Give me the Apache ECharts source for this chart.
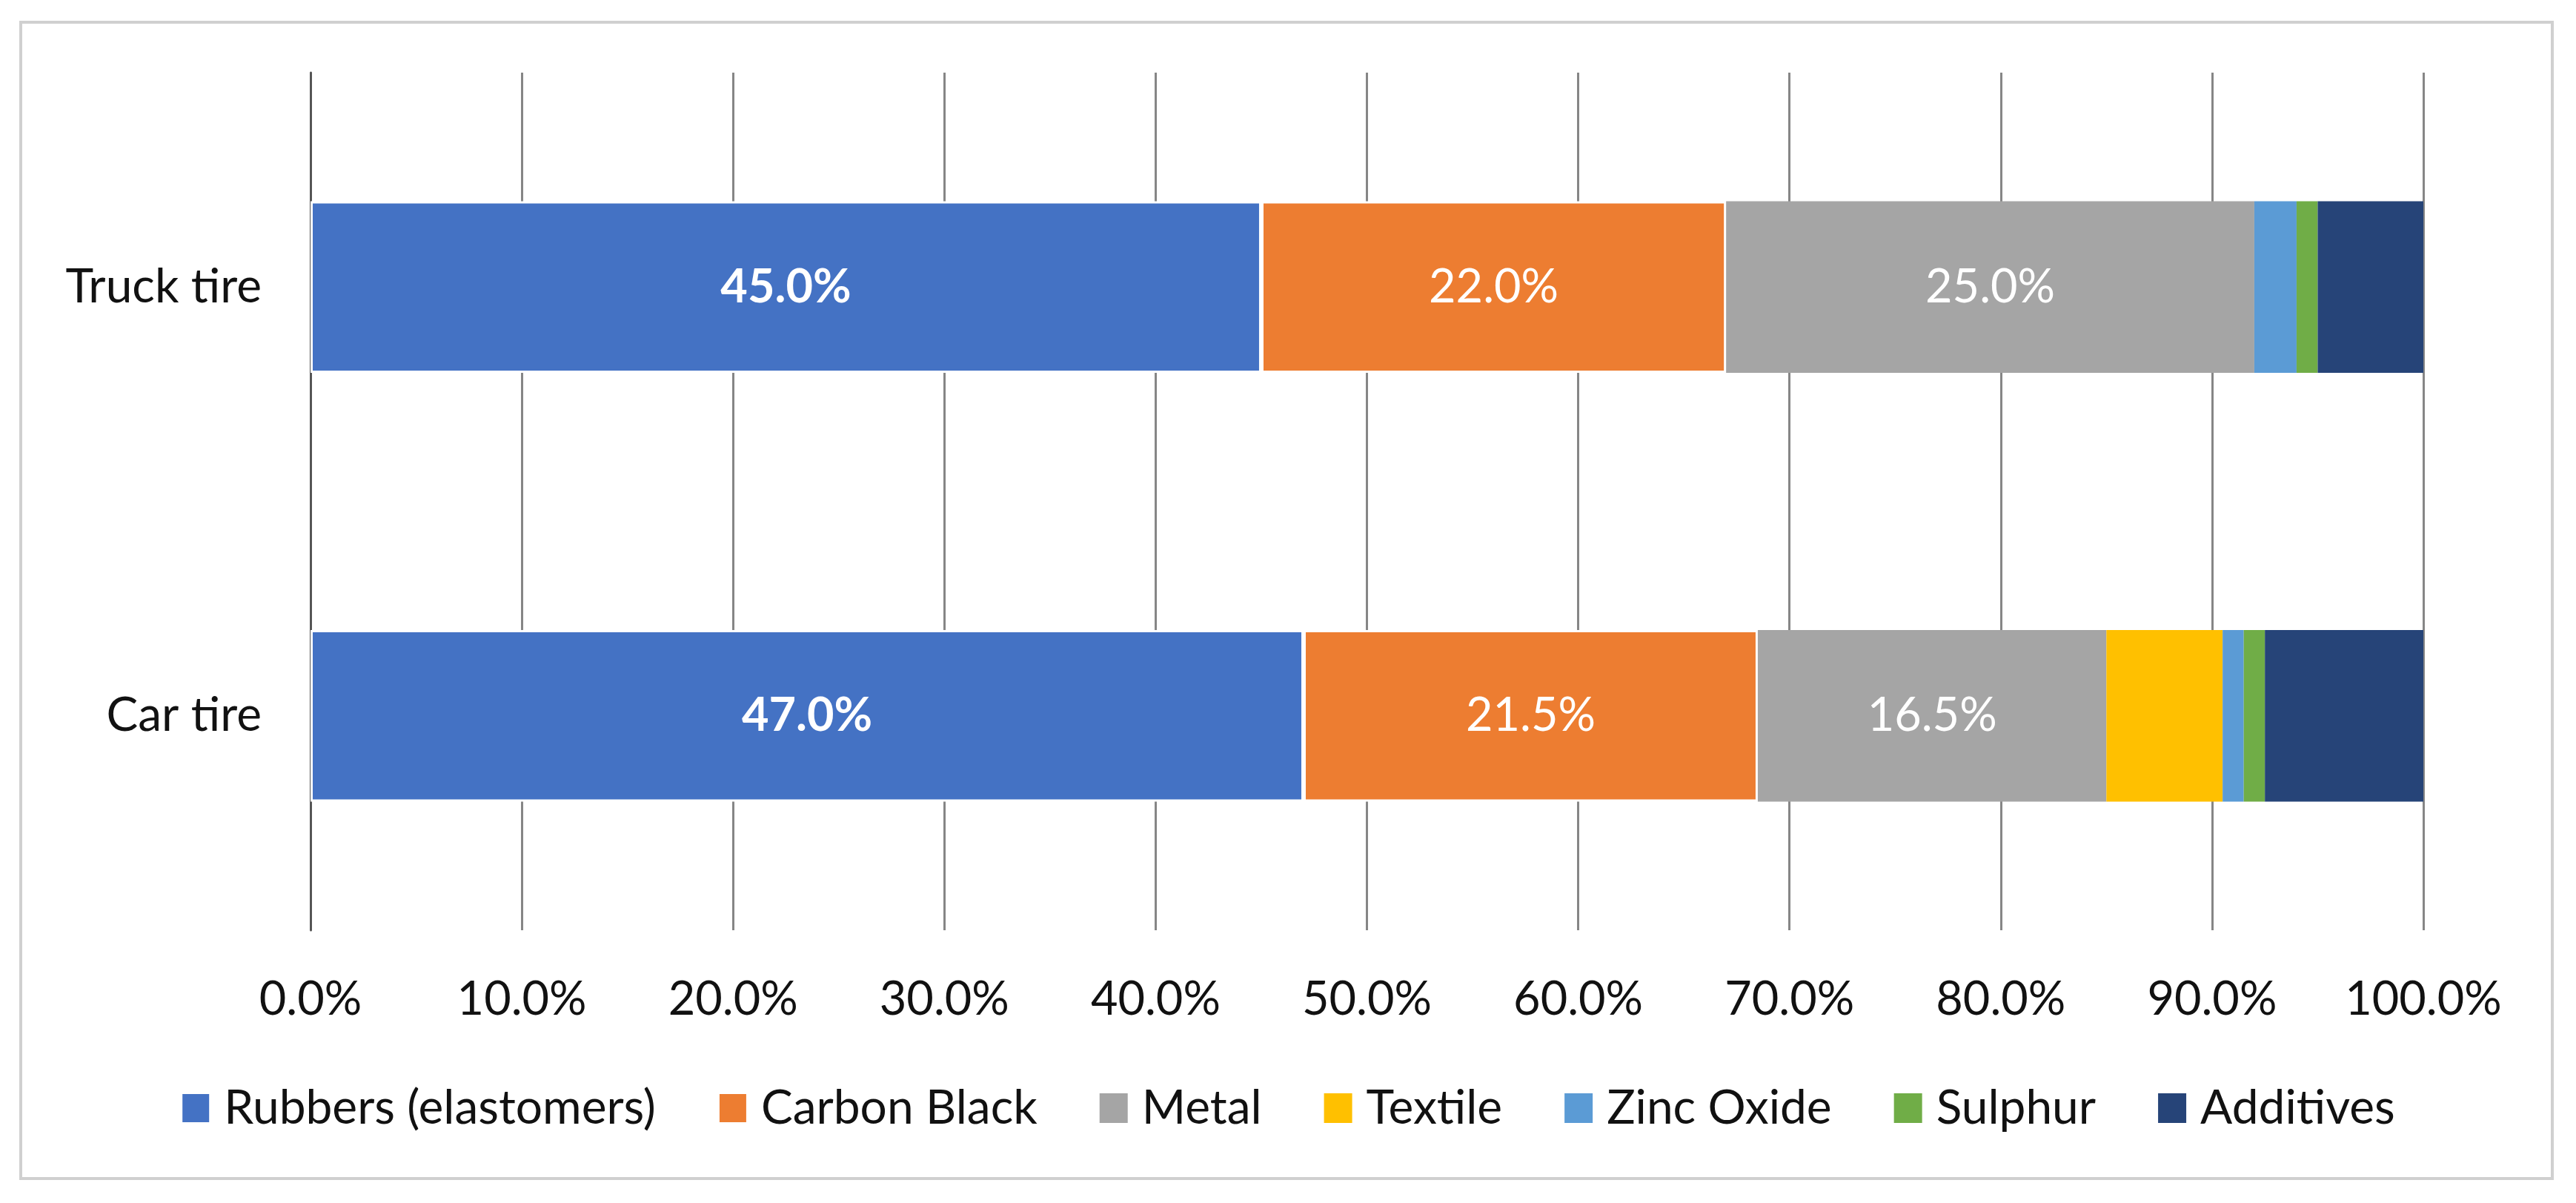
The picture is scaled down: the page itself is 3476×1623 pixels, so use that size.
<!DOCTYPE html>
<html>
<head>
<meta charset="utf-8">
<script src="https://cdn.jsdelivr.net/npm/echarts@6/dist/echarts.min.js"></script>
<style>
html,body{margin:0;padding:0;background:#fff;}
#c{width:3476px;height:1623px;}
</style>
</head>
<body>
<div id="c"></div>
<script>
const categories = ['Car tire', 'Truck tire'];
const seriesNames = ['Rubbers (elastomers)', 'Carbon Black', 'Metal', 'Textile', 'Zinc Oxide', 'Sulphur', 'Additives'];
const rubbers   = [47.0, 45.0];
const carbon    = [21.5, 22.0];
const metal     = [16.5, 25.0];
const textile   = [5.5, 0];
const zincOxide = [1.0, 2.0];
const sulphur   = [1.0, 1.0];
const additives = [7.5, 5.0];
const xTicks = [0, 10, 20, 30, 40, 50, 60, 70, 80, 90, 100];

const colors = ['#4472C4', '#ED7D31', '#A5A5A5', '#FFC000', '#5B9BD5', '#70AD47', '#264478'];
const values = [rubbers, carbon, metal, textile, zincOxide, sulphur, additives];
const labelShown = [true, true, true, false, false, false, false];
const labelBold = [true, false, false, false, false, false, false];
const FONT = 'Lato, "Open Sans", sans-serif';

const chart = echarts.init(document.getElementById('c'), null, {renderer: 'canvas'});

const series = seriesNames.map((name, i) => ({
  name: name,
  type: 'bar',
  stack: 'total',
  barWidth: '40%',
  data: values[i],
  itemStyle: {
    color: colors[i],
    borderColor: i < 2 ? '#ffffff' : colors[i],
    borderWidth: i < 2 ? 3 : 0
  },
  label: {
    show: labelShown[i],
    position: 'inside',
    color: '#ffffff',
    fontFamily: FONT,
    fontSize: 63,
    fontWeight: labelBold[i] ? 'bold' : 'normal',
    formatter: p => p.value.toFixed(1) + '%'
  },
  emphasis: {disabled: true}
}));

chart.setOption({
  animation: false,
  backgroundColor: '#ffffff',
  graphic: [{
    type: 'rect',
    shape: {x: 28, y: 30, width: 3416, height: 1560},
    style: {fill: 'none', stroke: '#d0d0d0', lineWidth: 4},
    silent: true
  }],
  grid: {left: 419, right: 206, top: 98, bottom: 368, containLabel: false},
  xAxis: {
    type: 'value',
    min: xTicks[0],
    max: xTicks[xTicks.length - 1],
    interval: 10,
    axisLine: {show: false},
    axisTick: {show: false},
    splitLine: {show: true, lineStyle: {color: '#868686', width: 3}},
    axisLabel: {
      margin: 62,
      color: '#111111',
      fontFamily: FONT,
      fontSize: 63,
      formatter: v => v.toFixed(1) + '%'
    }
  },
  yAxis: {
    type: 'category',
    data: categories,
    axisLine: {show: true, lineStyle: {color: '#555555', width: 3}},
    axisTick: {show: false},
    axisLabel: {
      margin: 66,
      color: '#111111',
      fontFamily: FONT,
      fontSize: 64
    }
  },
  legend: {
    data: seriesNames,
    left: 'center',
    top: 1458,
    icon: 'rect',
    itemWidth: 38,
    itemHeight: 40,
    itemGap: 84,
    textStyle: {
      color: '#111111',
      fontFamily: FONT,
      fontSize: 64,
      padding: [0, 0, 0, 14]
    },
    selectedMode: false
  },
  series: series
});
</script>
</body>
</html>
